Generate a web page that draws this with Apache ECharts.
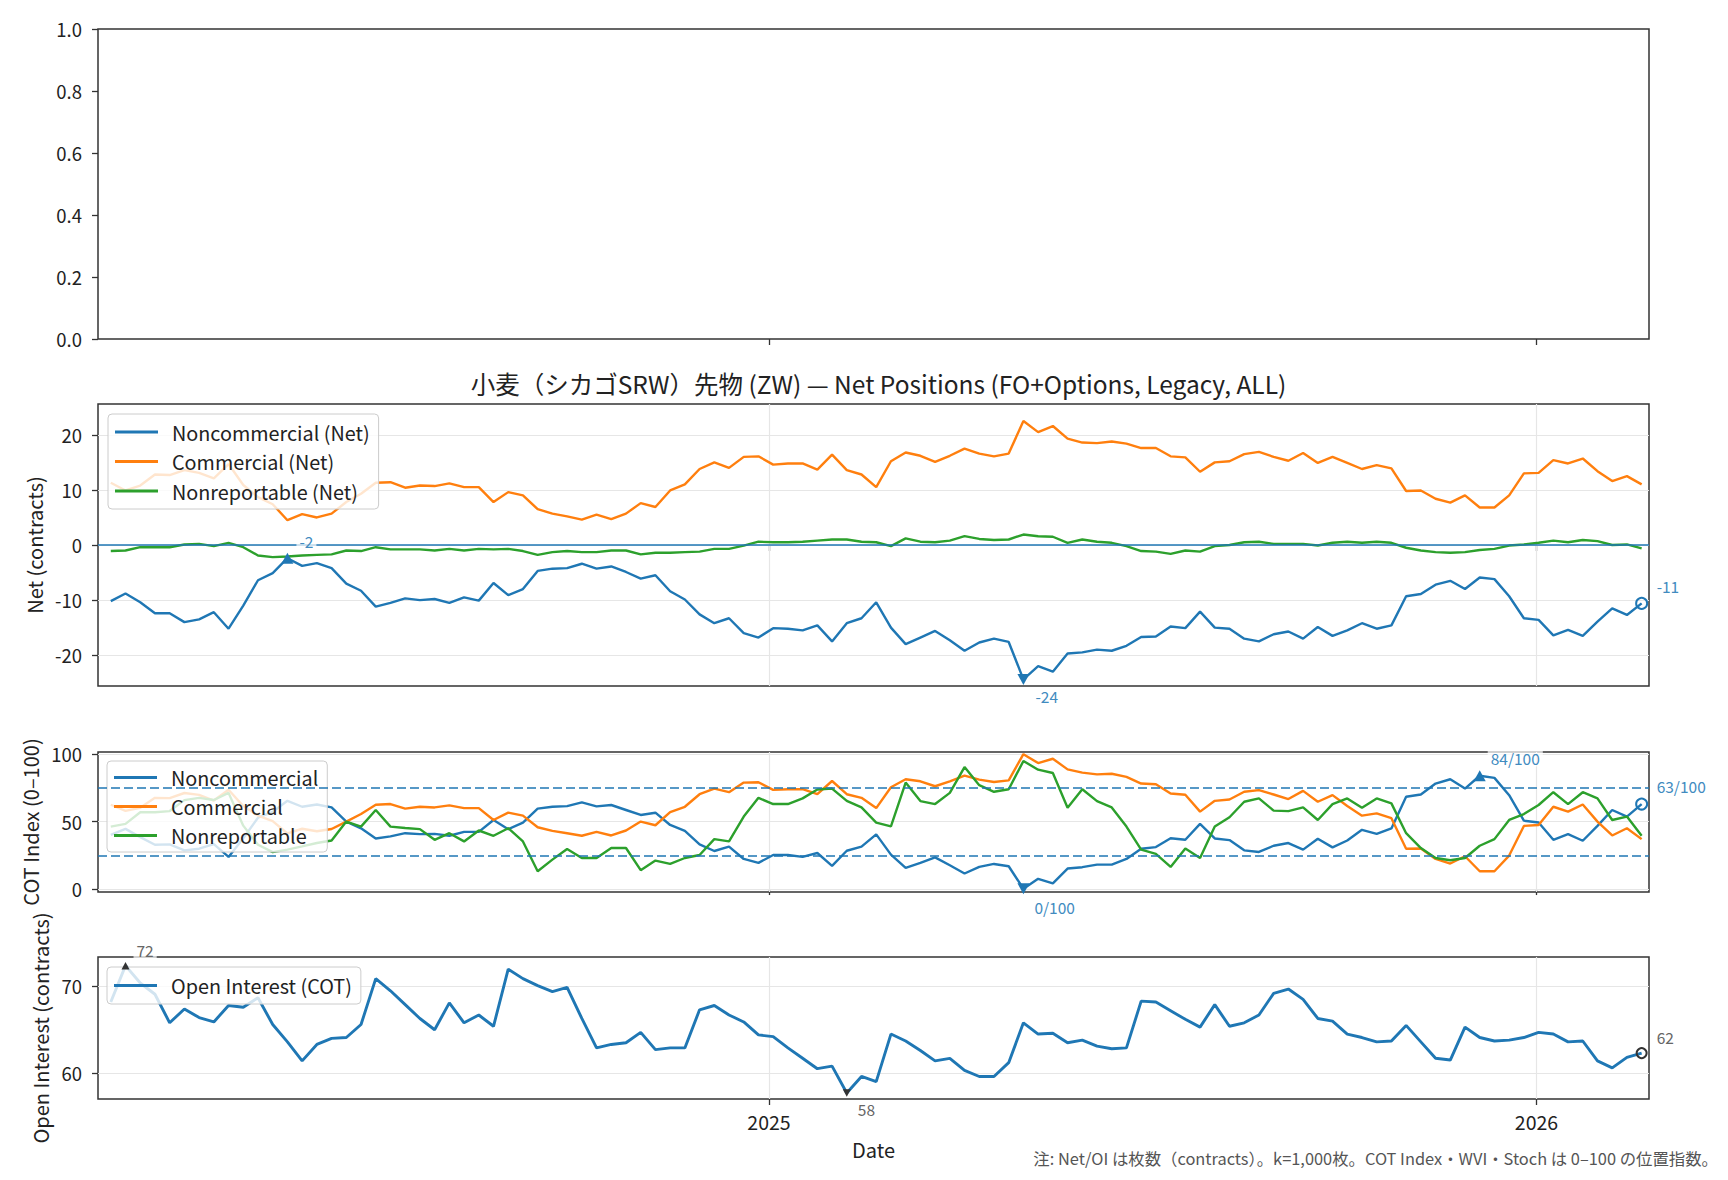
<!DOCTYPE html>
<html><head><meta charset="utf-8">
<script src="https://cdn.jsdelivr.net/npm/echarts@6/dist/echarts.min.js"></script>
<style>html,body{margin:0;padding:0;background:#fff}#c{width:1728px;height:1180px}</style>
</head><body><div id="c"></div>
<script>
// ---- data (k contracts / index) ----
const dates = [
'2024-02-23','2024-03-01','2024-03-08','2024-03-15','2024-03-22','2024-03-29','2024-04-05','2024-04-12','2024-04-19','2024-04-26',
'2024-05-03','2024-05-10','2024-05-17','2024-05-24','2024-05-31','2024-06-07','2024-06-14','2024-06-21','2024-06-28','2024-07-05',
'2024-07-12','2024-07-19','2024-07-26','2024-08-02','2024-08-09','2024-08-16','2024-08-23','2024-08-30','2024-09-06','2024-09-13',
'2024-09-20','2024-09-27','2024-10-04','2024-10-11','2024-10-18','2024-10-25','2024-11-01','2024-11-08','2024-11-15','2024-11-22',
'2024-11-29','2024-12-06','2024-12-13','2024-12-20','2024-12-27','2025-01-03','2025-01-10','2025-01-17','2025-01-24','2025-01-31',
'2025-02-07','2025-02-14','2025-02-21','2025-02-28','2025-03-07','2025-03-14','2025-03-21','2025-03-28','2025-04-04','2025-04-11',
'2025-04-18','2025-04-25','2025-05-02','2025-05-09','2025-05-16','2025-05-23','2025-05-30','2025-06-06','2025-06-13','2025-06-20',
'2025-06-27','2025-07-04','2025-07-11','2025-07-18','2025-07-25','2025-08-01','2025-08-08','2025-08-15','2025-08-22','2025-08-29',
'2025-09-05','2025-09-12','2025-09-19','2025-09-26','2025-10-03','2025-10-10','2025-10-17','2025-10-24','2025-10-31','2025-11-07',
'2025-11-14','2025-11-21','2025-11-28','2025-12-05','2025-12-12','2025-12-19','2025-12-26','2026-01-02','2026-01-09','2026-01-16',
'2026-01-23','2026-01-30','2026-02-06','2026-02-13','2026-02-20'];

const noncommNet = [
-10.2,-8.8,-10.4,-12.4,-12.4,-14.0,-13.5,-12.2,-15.2,-11.0,
-6.4,-5.1,-2.4,-3.8,-3.3,-4.2,-7.0,-8.3,-11.2,-10.5,
-9.7,-10.0,-9.8,-10.5,-9.5,-10.1,-6.9,-9.1,-8.0,-4.7,
-4.3,-4.2,-3.4,-4.3,-3.9,-4.9,-6.1,-5.5,-8.4,-9.9,
-12.6,-14.2,-13.3,-16.0,-16.8,-15.1,-15.2,-15.5,-14.6,-17.5,
-14.2,-13.3,-10.4,-15.0,-18.0,-16.8,-15.6,-17.3,-19.2,-17.7,
-17.0,-17.6,-24.4,-22.0,-23.0,-19.7,-19.5,-19.0,-19.2,-18.3,
-16.7,-16.6,-14.8,-15.1,-12.1,-15.0,-15.2,-17.0,-17.5,-16.2,
-15.7,-17.0,-14.9,-16.5,-15.5,-14.2,-15.2,-14.6,-9.3,-8.9,
-7.2,-6.5,-8.0,-5.9,-6.2,-9.3,-13.3,-13.6,-16.4,-15.4,
-16.5,-13.9,-11.5,-12.7,-10.6];

const commNet = [
11.3,9.9,10.8,12.8,12.7,13.6,13.1,12.1,14.7,10.9,
8.7,7.4,4.5,5.6,5.0,5.7,7.8,9.3,11.3,11.4,
10.4,10.8,10.7,11.2,10.5,10.5,7.8,9.6,9.0,6.5,
5.7,5.2,4.6,5.5,4.7,5.7,7.6,6.9,9.9,11.0,
13.8,15.0,14.0,16.0,16.1,14.6,14.8,14.8,13.7,16.4,
13.6,12.8,10.5,15.2,16.8,16.2,15.1,16.2,17.5,16.6,
16.1,16.6,22.5,20.5,21.6,19.3,18.6,18.5,18.8,18.4,
17.6,17.6,16.1,15.9,13.3,15.0,15.2,16.5,16.9,16.0,
15.3,16.7,14.9,16.0,14.9,13.8,14.5,13.9,9.8,9.9,
8.4,7.7,9.0,6.8,6.8,9.0,13.0,13.1,15.4,14.8,
15.7,13.4,11.6,12.5,11.0];

const nonrepNet = [
-1.1,-1.0,-0.4,-0.4,-0.4,0.1,0.2,-0.2,0.4,-0.4,
-1.9,-2.2,-2.1,-1.9,-1.8,-1.7,-1.0,-1.1,-0.4,-0.8,
-0.8,-0.8,-1.0,-0.7,-1.0,-0.7,-0.8,-0.7,-1.1,-1.8,
-1.3,-1.1,-1.3,-1.3,-1.0,-1.0,-1.7,-1.4,-1.4,-1.3,
-1.2,-0.7,-0.7,-0.1,0.6,0.5,0.5,0.6,0.8,1.0,
1.0,0.6,0.5,-0.2,1.2,0.6,0.5,0.8,1.6,1.1,
0.9,1.0,1.9,1.6,1.5,0.4,1.0,0.6,0.4,-0.2,
-1.1,-1.2,-1.6,-1.0,-1.2,-0.2,0.0,0.5,0.6,0.2,
0.2,0.2,-0.1,0.4,0.6,0.4,0.6,0.4,-0.5,-1.0,
-1.3,-1.4,-1.3,-0.9,-0.7,-0.1,0.1,0.4,0.8,0.5,
0.9,0.7,0.0,0.1,-0.6];

const noncommCOT = [
40.2,44.6,38.5,32.8,33.1,28.7,29.9,33.3,23.8,37.7,
52.9,57.2,65.4,61.0,62.7,60.5,50.0,45.0,37.5,39.0,
41.4,40.7,40.9,39.5,42.4,42.4,51.2,44.4,49.3,59.6,
61.0,61.5,64.2,61.3,62.3,58.6,54.9,56.6,47.5,43.1,
33.1,28.2,31.4,22.3,19.4,25.2,25.2,23.8,26.7,17.2,
28.4,31.4,40.5,25.5,15.7,19.4,23.5,17.6,11.5,16.4,
18.6,16.9,0.2,7.6,4.2,15.2,16.2,18.1,18.1,22.3,
29.9,31.1,37.7,36.5,48.3,37.5,36.3,28.7,27.5,32.1,
34.1,29.2,37.3,30.9,36.0,43.9,40.9,44.9,68.4,70.1,
78.2,81.4,74.5,84.0,82.4,69.6,50.7,49.3,36.5,40.7,
35.8,46.8,58.6,53.7,63.0];

const commCOT = [
62.5,57.9,60.3,67.6,67.4,71.2,69.8,65.6,73.6,61.5,
54.5,50.4,41.2,44.7,42.8,44.5,50.0,55.6,62.5,63.0,
59.6,61.0,60.5,62.0,60.0,60.0,51.2,56.6,54.4,45.8,
43.1,41.4,39.5,42.4,39.7,43.4,50.0,47.3,57.1,61.0,
70.3,74.5,71.8,78.9,79.2,73.5,74.0,74.0,70.3,80.1,
70.3,67.6,60.0,75.5,81.4,79.9,76.2,79.9,84.1,81.1,
79.4,80.6,100.0,93.4,96.6,88.7,86.3,85.0,85.5,83.1,
78.2,77.7,70.8,69.9,57.4,65.4,66.4,72.1,73.3,70.1,
66.7,72.8,64.7,69.6,61.5,54.4,56.1,52.5,29.9,30.1,
22.3,18.9,24.3,13.2,13.2,24.8,46.8,47.5,61.0,57.4,
62.7,50.0,39.7,45.1,37.0];

const nonrepCOT = [
46.3,48.3,56.9,56.9,57.8,65.9,67.6,66.0,71.3,47.0,
32.8,27.4,29.2,31.6,34.1,36.0,50.0,46.3,58.6,46.3,
45.3,44.4,36.5,41.4,35.3,43.4,39.5,45.1,35.3,13.2,
21.8,29.7,23.0,23.0,30.4,30.4,14.0,21.1,18.6,23.0,
25.2,37.0,35.3,53.7,67.6,63.0,63.0,67.2,73.8,74.5,
65.4,60.5,49.3,46.5,78.9,65.2,63.0,71.3,90.4,77.0,
72.1,74.0,94.9,88.5,86.0,60.3,74.0,65.2,60.5,46.3,
29.2,26.0,16.4,30.1,23.0,46.3,53.2,64.7,67.2,58.1,
57.8,60.5,51.2,63.0,67.2,60.3,67.2,63.5,41.4,30.4,
23.0,21.3,23.0,32.1,37.0,51.2,55.6,62.3,71.8,63.0,
71.8,67.2,51.2,53.7,39.5];

const openInterest = [
68.2,72.4,70.4,69.1,65.8,67.4,66.4,65.9,67.8,67.6,
68.7,65.6,63.6,61.4,63.3,64.0,64.1,65.6,70.9,69.5,
67.9,66.3,65.0,68.1,65.8,66.7,65.4,72.0,70.9,70.1,
69.4,69.9,66.3,62.9,63.3,63.5,64.7,62.7,62.9,62.9,
67.3,67.8,66.7,65.9,64.4,64.2,62.9,61.7,60.5,60.8,
57.7,59.6,59.0,64.5,63.7,62.6,61.4,61.7,60.3,59.6,
59.6,61.2,65.8,64.5,64.6,63.5,63.8,63.1,62.8,62.9,
68.3,68.2,67.2,66.2,65.3,67.9,65.4,65.8,66.7,69.2,
69.7,68.5,66.3,66.0,64.5,64.1,63.6,63.7,65.5,63.6,
61.7,61.5,65.3,64.1,63.7,63.8,64.1,64.7,64.5,63.6,
63.7,61.4,60.6,61.8,62.3];

const yearTicks = ['2025-01-01', '2026-01-01'];
const yTicksTop = [0, 0.2, 0.4, 0.6, 0.8, 1.0];
const yTicksNet = [-20, -10, 0, 10, 20];
const yTicksCOT = [0, 50, 100];
const yTicksOI = [60, 70];
const cotBands = [25, 75];
const titleText = '小麦（シカゴSRW）先物 (ZW) — Net Positions (FO+Options, Legacy, ALL)';
const noteText = '注: Net/OI は枚数（contracts）。k=1,000枚。COT Index・WVI・Stoch は 0–100 の位置指数。';

// ---- styling ----
const FONT = '"Noto Sans CJK JP", "Noto Sans", sans-serif';
const C_BLUE = '#1f77b4', C_ORANGE = '#ff7f0e', C_GREEN = '#2ca02c';
const TXT = '#222222';
const ts = s => Date.parse(s);        // UTC ms
const X_MIN = ts('2024-02-16T22:00:00Z'), X_MAX = ts('2026-02-23T12:00:00Z');
const xs = dates.map(ts);
const yearTs = yearTicks.map(ts);
const GRIDS = [
  {left: 98, top: 29, width: 1551, height: 310},
  {left: 98, top: 404, width: 1551, height: 282},
  {left: 98, top: 752, width: 1551, height: 140},
  {left: 98, top: 957, width: 1551, height: 142}
];

function pairs(arr) { return xs.map((x, i) => [x, arr[i]]); }

const TRI_UP = 'path://M5,0 L10,8.66 L0,8.66 Z';
const TRI_DOWN = 'path://M0,0 L10,0 L5,8.66 Z';

function extremeMarks(arr, fmt, color, labelColor, o) {
  let iMax = 0, iMin = 0;
  arr.forEach((v, i) => { if (v > arr[iMax]) iMax = i; if (v < arr[iMin]) iMin = i; });
  const last = arr.length - 1;
  return {
    silent: true, animation: false, z: 6,
    label: {show: true, position: 'inside', align: 'left', verticalAlign: 'middle',
      color: labelColor, fontSize: 15.5, fontFamily: FONT,
      backgroundColor: 'rgba(255,255,255,0.7)', padding: [1, 3]},
    data: [
      {coord: [xs[iMax], arr[iMax]], symbol: TRI_UP, symbolSize: o.tri, itemStyle: {color: color},
        label: {formatter: fmt(arr[iMax]), offset: [o.dx, -o.dy]}},
      {coord: [xs[iMin], arr[iMin]], symbol: TRI_DOWN, symbolSize: o.tri, itemStyle: {color: color},
        label: {formatter: fmt(arr[iMin]), offset: [o.dx, o.dy]}},
      {coord: [xs[last], arr[last]], symbol: 'circle', symbolSize: o.circ,
        itemStyle: {color: 'rgba(255,255,255,0)', borderColor: color, borderWidth: 2},
        label: {formatter: fmt(arr[last]), offset: [o.dxLast, -o.dy]}}
    ]
  };
}

function xAxisCfg(i, showLabel) {
  return {
    type: 'value', gridIndex: i, min: X_MIN, max: X_MAX, scale: true,
    axisLine: {show: false},
    axisTick: {show: true, inside: false, length: 6, customValues: yearTs, lineStyle: {color: '#333', width: 1.3}},
    splitLine: {show: false},
    axisLabel: {show: showLabel, margin: 13, fontSize: 19.5, color: TXT, fontFamily: FONT,
      customValues: yearTs,
      formatter: v => String(new Date(v).getUTCFullYear())},
    name: showLabel ? 'Date' : '', nameLocation: 'middle', nameGap: 40,
    nameTextStyle: {fontSize: 20, color: TXT, fontFamily: FONT}
  };
}

function yAxisCfg(i, ticks, fmt, o) {
  return Object.assign({
    type: 'value', gridIndex: i,
    axisLine: {show: false},
    axisTick: {show: true, inside: false, length: 6, customValues: ticks, lineStyle: {color: '#333', width: 1.3}},
    splitLine: {show: false},
    axisLabel: {margin: 16, fontSize: 18.5, color: TXT, fontFamily: FONT, customValues: ticks, formatter: fmt},
    nameLocation: 'middle', nameTextStyle: {fontSize: 20, color: TXT, fontFamily: FONT}
  }, o);
}

function legendCfg(names, left, top, gap, padV) {
  return {
    data: names, orient: 'vertical', left: left, top: top, icon: 'rect',
    itemWidth: 43, itemHeight: 3, itemGap: gap, padding: [padV, 9, padV, 7],
    selectedMode: false,
    textStyle: {fontSize: 19.8, color: TXT, fontFamily: FONT, padding: [0, 0, 0, 9], lineHeight: 20},
    backgroundColor: 'rgba(255,255,255,0.8)', borderColor: '#cccccc', borderWidth: 1, borderRadius: 4
  };
}

function lineSeries(name, arr, color, gi, width, extra) {
  return Object.assign({
    type: 'line', name: name, xAxisIndex: gi, yAxisIndex: gi, data: pairs(arr),
    showSymbol: false, symbol: 'none', animation: false,
    lineStyle: {color: color, width: width}, itemStyle: {color: color}, z: 2
  }, extra || {});
}

// light grid lines (drawn under the data lines) at the axis tick values
const GRID_LINE = {color: '#e6e6e6', width: 1.2, type: 'solid'};
function gridSeries(gi, yTicks) {
  return {
    type: 'line', xAxisIndex: gi, yAxisIndex: gi, data: [], silent: true, z: 1,
    markLine: {silent: true, symbol: 'none', animation: false, z: 1, label: {show: false},
      lineStyle: GRID_LINE,
      data: yearTs.map(t => ({xAxis: t})).concat(yTicks.map(v => ({yAxis: v})))}
  };
}

const intFmt = v => String(Math.round(v));
const blueLabel = '#418bbf';
const option = {
  animation: false,
  textStyle: {fontFamily: FONT},
  title: [
    {text: titleText, left: 873.5, top: 366, textAlign: 'center',
      textStyle: {fontSize: 24.5, fontWeight: 'normal', color: TXT, fontFamily: FONT}},
    {text: noteText, right: 5, top: 1145,
      textStyle: {fontSize: 16.4, fontWeight: 'normal', color: '#555', fontFamily: FONT}}
  ],
  grid: GRIDS.map(g => Object.assign({show: true, borderColor: '#333', borderWidth: 1.5, backgroundColor: '#fff', containLabel: false}, g)),
  legend: [
    legendCfg(['Noncommercial (Net)', 'Commercial (Net)', 'Nonreportable (Net)'], 108, 414, 9.5, 8),
    legendCfg(['Noncommercial', 'Commercial', 'Nonreportable'], 107, 761, 9, 6.5),
    legendCfg(['Open Interest (COT)'], 107, 967, 9, 8.5)
  ],
  xAxis: [xAxisCfg(0, false), xAxisCfg(1, false), xAxisCfg(2, false), xAxisCfg(3, true)],
  yAxis: [
    yAxisCfg(0, yTicksTop, v => Number(v).toFixed(1), {min: 0, max: 1}),
    yAxisCfg(1, yTicksNet, intFmt, {min: -25.6, max: 25.6, name: 'Net (contracts)', nameGap: 52}),
    yAxisCfg(2, yTicksCOT, intFmt, {min: -2.2, max: 101.6, name: 'COT Index (0–100)', nameGap: 54}),
    yAxisCfg(3, yTicksOI, intFmt, {min: 57.0, max: 73.4, name: 'Open Interest (contracts)', nameGap: 44})
  ],
  series: [
    {type: 'line', xAxisIndex: 0, yAxisIndex: 0, data: [], silent: true},
    gridSeries(1, yTicksNet), gridSeries(2, yTicksCOT), gridSeries(3, yTicksOI),
    lineSeries('Noncommercial (Net)', noncommNet, C_BLUE, 1, 2.4, {
      markPoint: extremeMarks(noncommNet, intFmt, C_BLUE, blueLabel, {tri: [12, 11], circ: 11, dx: 9, dy: 17, dxLast: 12})}),
    lineSeries('Commercial (Net)', commNet, C_ORANGE, 1, 2.4),
    lineSeries('Nonreportable (Net)', nonrepNet, C_GREEN, 1, 2.4, {
      markLine: {silent: true, symbol: 'none', animation: false, label: {show: false},
        lineStyle: {color: C_BLUE, width: 1.7, type: 'solid'}, data: [{yAxis: 0}]}}),
    lineSeries('Noncommercial', noncommCOT, C_BLUE, 2, 2.4, {
      markLine: {silent: true, symbol: 'none', animation: false, label: {show: false},
        lineStyle: {color: C_BLUE, width: 1.6, type: [9, 4]}, data: cotBands.map(b => ({yAxis: b}))},
      markPoint: extremeMarks(noncommCOT, v => Math.round(v) + '/100', C_BLUE, blueLabel, {tri: [12, 11], circ: 11, dx: 8, dy: 18, dxLast: 12})}),
    lineSeries('Commercial', commCOT, C_ORANGE, 2, 2.4),
    lineSeries('Nonreportable', nonrepCOT, C_GREEN, 2, 2.4),
    lineSeries('Open Interest (COT)', openInterest, C_BLUE, 3, 2.9, {
      markPoint: extremeMarks(openInterest, intFmt, '#333333', '#666666', {tri: [8, 7.5], circ: 10, dx: 8, dy: 16, dxLast: 12})})
  ]
};

const chart = echarts.init(document.getElementById('c'), null, {renderer: 'svg', width: 1728, height: 1180});
chart.setOption(option);
</script>
</body></html>
